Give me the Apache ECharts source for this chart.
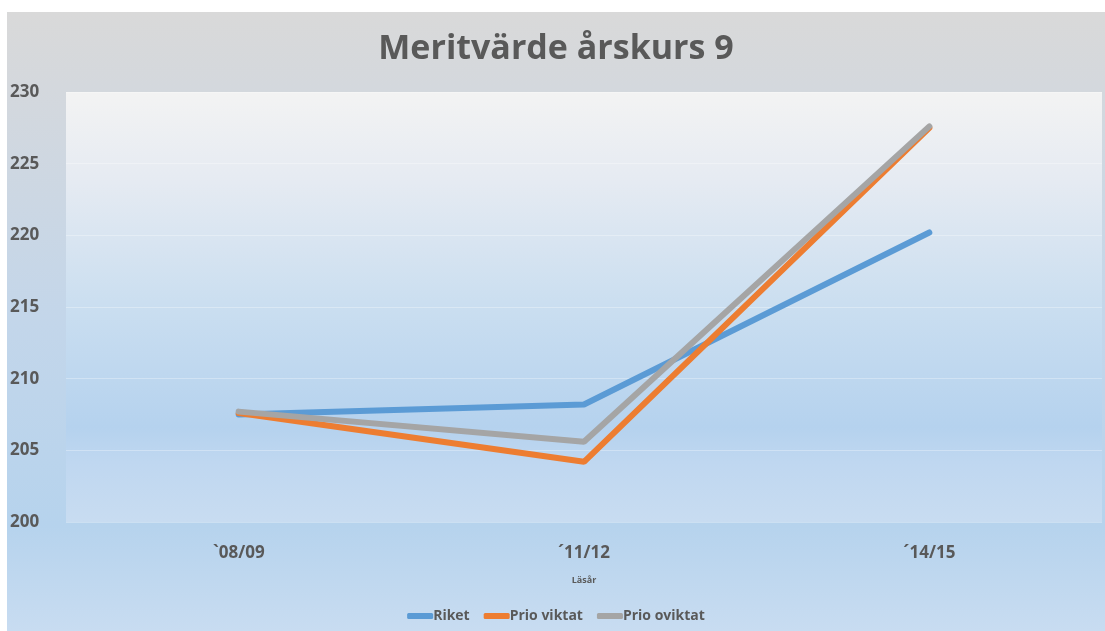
<!DOCTYPE html>
<html><head><meta charset="utf-8">
<script src="https://cdn.jsdelivr.net/npm/echarts@6/dist/echarts.min.js"></script>
<style>
html,body{margin:0;padding:0;background:#fff;width:1105px;height:631px;overflow:hidden;}
#c{position:absolute;left:7px;top:12px;width:1098px;height:619px;}
</style></head><body>
<div id="c"></div>
<script>
const categories = ['`08/09', '´11/12', '´14/15'];
const riket = [207.5, 208.2, 220.2];
const prioViktat = [207.6, 204.2, 227.5];
const prioOviktat = [207.7, 205.6, 227.6];
const seriesNames = ['Riket', 'Prio viktat', 'Prio oviktat'];
const colors = ['#5b9bd5', '#ed7d31', '#a5a5a5'];

const chart = echarts.init(document.getElementById('c'));
const lg = (stops) => new echarts.graphic.LinearGradient(0, 0, 0, 1, stops.map((c, i) => ({offset: c[0], color: c[1]})));
const txt = '#595959';
const font = "'Open Sans', sans-serif";
chart.setOption({
  backgroundColor: lg([[0, '#d9d9d9'], [0.12, '#d4d8dd'], [0.5, '#c3d6ea'], [0.83, '#b6d3ed'], [1, '#c8dcf1']]),
  title: {
    text: 'Meritvärde årskurs 9', left: 'center', top: 15,
    textStyle: {fontFamily: font, fontSize: 34, fontWeight: 'bold', color: txt}
  },
  legend: {
    bottom: 3, left: 'center', icon: 'roundRect', itemWidth: 26, itemHeight: 6, itemGap: 14,
    data: seriesNames,
    textStyle: {fontFamily: font, fontSize: 14, fontWeight: 'bold', color: txt, padding: [0, 0, 0, -5]}
  },
  grid: {
    left: 59, top: 80, right: 3, bottom: 109, show: true, borderWidth: 0,
    backgroundColor: lg([[0, '#f3f3f3'], [0.2, '#e6ebf2'], [0.5, '#cadef0'], [0.78, '#b5d2ee'], [0.86, '#bfd7f0'], [1, '#c8dcf1']])
  },
  xAxis: {
    type: 'category', data: categories, boundaryGap: true,
    name: 'Läsår', nameLocation: 'middle', nameGap: 54,
    nameTextStyle: {fontFamily: font, fontSize: 9, fontWeight: 'bold', color: txt},
    axisLine: {show: false}, axisTick: {show: false},
    axisLabel: {fontFamily: font, fontSize: 17, fontWeight: 'bold', color: txt, margin: 23}
  },
  yAxis: {
    type: 'value', min: 200, max: 230, interval: 5,
    axisLine: {show: false}, axisTick: {show: false},
    axisLabel: {fontFamily: font, fontSize: 17, fontWeight: 'bold', color: txt, align: 'left', margin: 56},
    splitLine: {show: true, lineStyle: {color: 'rgba(255,255,255,0.3)', width: 1}}
  },
  series: [riket, prioViktat, prioOviktat].map((d, i) => ({
    name: seriesNames[i], type: 'line', data: d, symbol: 'none',
    lineStyle: {width: 6, color: colors[i], cap: 'round'}, itemStyle: {color: colors[i]},
    z: 2 + i
  })),
  animation: false
});
</script>
</body></html>
